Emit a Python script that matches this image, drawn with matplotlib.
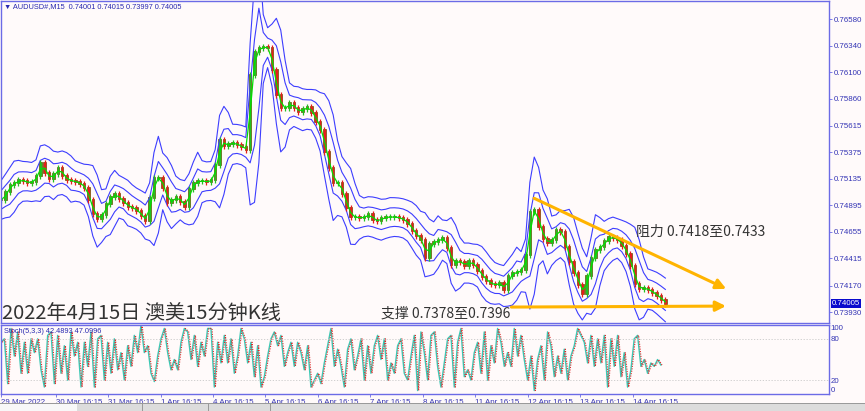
import numpy as np
import pandas as pd
import matplotlib
matplotlib.use('Agg')
import matplotlib.pyplot as plt
from matplotlib.patches import Rectangle

plt.rcParams['font.family'] = ['Liberation Sans', 'DejaVu Sans']
CJK = ['Noto Sans CJK SC', 'DejaVu Sans']

symbol = 'AUDUSD#,M15'
last_ohlc = [0.74001, 0.74015, 0.73997, 0.74005]

# closes, one every 2 hours (8 bars of M15)
closes = [
    0.74943, 0.75015, 0.75079, 0.75097, 0.75124, 0.75115, 0.75097, 0.75106, 0.75160, 0.75278,
    0.75187, 0.75133, 0.75178, 0.75232, 0.75160, 0.75124, 0.75115, 0.75106, 0.75088, 0.75052,
    0.74943, 0.74816, 0.74771, 0.74807, 0.74907, 0.74970, 0.74997, 0.74952, 0.74916, 0.74880,
    0.74871, 0.74843, 0.74798, 0.74753, 0.74961, 0.75142, 0.75142, 0.75052, 0.74916, 0.74943,
    0.74970, 0.74925, 0.74880, 0.75043, 0.75097, 0.75115, 0.75115, 0.75106, 0.75124, 0.75260,
    0.75486, 0.75431, 0.75450, 0.75459, 0.75440, 0.75422, 0.75395, 0.76074, 0.76282, 0.76318,
    0.76327, 0.76318, 0.76119, 0.75893, 0.75775, 0.75775, 0.75820, 0.75775, 0.75739, 0.75766,
    0.75784, 0.75730, 0.75648, 0.75576, 0.75377, 0.75232, 0.75097, 0.75097, 0.74997, 0.74871,
    0.74789, 0.74789, 0.74780, 0.74789, 0.74816, 0.74762, 0.74753, 0.74780, 0.74789, 0.74789,
    0.74789, 0.74780, 0.74762, 0.74726, 0.74663, 0.74617, 0.74581, 0.74418, 0.74545, 0.74563,
    0.74581, 0.74599, 0.74509, 0.74355, 0.74391, 0.74382, 0.74346, 0.74391, 0.74355, 0.74301,
    0.74247, 0.74210, 0.74183, 0.74174, 0.74192, 0.74129, 0.74256, 0.74283, 0.74292, 0.74310,
    0.74446, 0.74835, 0.74853, 0.74699, 0.74590, 0.74554, 0.74581, 0.74672, 0.74654, 0.74518,
    0.74382, 0.74283, 0.74174, 0.74093, 0.74256, 0.74418, 0.74491, 0.74518, 0.74572, 0.74608,
    0.74599, 0.74581, 0.74527, 0.74455, 0.74346, 0.74183, 0.74138, 0.74147, 0.74129, 0.74102,
    0.74075, 0.74039, 0.74005,
]
bars_per_candle = 8

# Stoch(5,3,3) main line, one reading every ~6 bars
stoch_k = [
    75, 80, 15, 95, 55, 90, 30, 75, 30, 80, 60, 80, 35, 10, 85, 90, 15, 85, 30, 70,
    20, 90, 55, 75, 10, 75, 40, 90, 10, 80, 85, 20, 75, 30, 80, 35, 60, 20, 70, 40,
    85, 60, 100, 60, 70, 30, 18, 55, 80, 95, 60, 35, 50, 35, 75, 95, 90, 50, 85, 40,
    75, 55, 95, 95, 10, 75, 45, 85, 45, 80, 30, 55, 95, 80, 45, 75, 25, 70, 10, 25,
    55, 80, 90, 70, 85, 40, 60, 75, 40, 75, 60, 35, 70, 10, 20, 30, 15, 45, 70, 95,
    40, 65, 40, 10, 65, 80, 35, 55, 80, 20, 70, 30, 70, 85, 50, 80, 20, 45, 30, 70,
    80, 30, 20, 55, 85, 5, 90, 60, 20, 85, 90, 40, 10, 45, 80, 85, 10, 75, 95, 25,
    35, 20, 60, 75, 30, 90, 20, 70, 45, 95, 75, 40, 60, 40, 95, 55, 85, 50, 20, 55,
    5, 50, 70, 20, 90, 70, 25, 55, 30, 65, 20, 55, 70, 95, 85, 75, 45, 85, 40, 80,
    45, 85, 10, 80, 40, 85, 25, 60, 10, 35, 80, 85, 40, 50, 30, 45, 40, 50, 42,
]
bars_per_stoch = 6.1
stoch_last = (42.4893, 47.0996)

price_ticks = [0.76580, 0.76340, 0.76100, 0.75860, 0.75615, 0.75375, 0.75135,
               0.74895, 0.74655, 0.74415, 0.74170, 0.73930]
time_labels = ['29 Mar 2022', '30 Mar 16:15', '31 Mar 16:15', '1 Apr 16:15', '4 Apr 16:15',
               '5 Apr 16:15', '6 Apr 16:15', '7 Apr 16:15', '8 Apr 16:15', '11 Apr 16:15',
               '12 Apr 16:15', '13 Apr 16:15', '14 Apr 16:15']
first_tick_bar = 100   # 30 Mar 16:15 counted from the first bar
bars_per_day = 96

resist_x = [971, 1332]
resist_y = [0.74970, 0.74129]
support_x = [929, 1332]
support_y = [0.73975, 0.73984]

title_text = '2022年4月15日 澳美15分钟K线'
support_text = '支撑 0.7378至0.7396'
resist_text = '阻力 0.7418至0.7433'

# ---------------------------------------------------------------
W, H = 865, 411
bg = '#fffafa'
frame = '#6b6be6'
txt = '#3535b5'
fs = 5.7
fig = plt.figure(figsize=(W / 100, H / 100), dpi=100, facecolor=bg)

def box(x0, y0, x1, y1):
    return [x0 / W, 1 - y1 / H, (x1 - x0) / W, (y1 - y0) / H]

ax = fig.add_axes(box(1, 1, 829, 323), facecolor=bg)
ax2 = fig.add_axes(box(1, 325, 829, 394), facecolor=bg, sharex=ax)

c = np.array(closes)
o = np.r_[c[0], c[:-1]]
x = np.arange(len(c)) * bars_per_candle
up = c >= o
pad = 0.0003
hi = np.maximum(o, c) + pad
lo = np.minimum(o, c) - pad

s = pd.Series(c)
mid = s.rolling(3, min_periods=1).mean()
sd = np.sqrt(s.rolling(4, min_periods=1).std(ddof=0) ** 2 + 0.0007 ** 2)
for k in (1.2, 2.5):
    ax.plot(x, mid + k * sd, color='#3d3dff', lw=0.8)
    ax.plot(x, mid - k * sd, color='#3d3dff', lw=0.8)

col = np.where(up, '#22c022', '#e81c1c')
ax.vlines(x, lo, hi, colors=col, lw=0.9)
ax.bar(x, np.abs(c - o) + 0.00006, bottom=np.minimum(o, c), width=4.5, color=col,
       edgecolor='#6a5000', lw=0.5)
ax.plot(x, s.rolling(2, min_periods=1).mean(), color='#00e000', lw=0.9)

xmax = 828 * bars_per_day / 52.45
ax.set_xlim(0, xmax)
ax.set_ylim(0.73831, 0.76743)

# trend lines
ax.annotate('', xy=(resist_x[1], resist_y[1]), xytext=(resist_x[0], resist_y[0]),
            arrowprops=dict(arrowstyle='-|>,head_length=0.6,head_width=0.3', color='#ffb400', lw=2.2))
ax.annotate('', xy=(support_x[1], support_y[1]), xytext=(support_x[0], support_y[0]),
            arrowprops=dict(arrowstyle='-|>,head_length=0.6,head_width=0.3', color='#ffb400', lw=2.2))

# price axis on the right
for a in (ax, ax2):
    for sp in a.spines.values():
        sp.set_color(frame)
        sp.set_linewidth(1.0)
    a.yaxis.tick_right()
    a.tick_params(axis='y', colors=frame, labelcolor=txt, labelsize=fs, length=2, width=0.6, pad=1.2)
ax.set_yticks(price_ticks)
ax.set_yticklabels([f'{p:.5f}' for p in price_ticks])
ax.tick_params(axis='x', bottom=False, labelbottom=False)

# current price tag
ax.text(1.003, (last_ohlc[3] - 0.73831) / (0.76743 - 0.73831), f'{last_ohlc[3]:.5f}',
        transform=ax.transAxes, fontsize=fs, color='white', va='center', ha='left',
        bbox=dict(boxstyle='square,pad=0.12', fc='#0a0acd', ec='none'))

ax.text(0.004, 0.982, '\u25bc ' + symbol + '  ' + ' '.join(f'{v:.5f}' for v in last_ohlc),
        transform=ax.transAxes, fontsize=5.3, color='#2828b0', va='center', ha='left')

# annotations
ax.text(2, 0.73915, title_text, family=CJK, fontsize=14.5, color='#333333', va='center', ha='left')
ax.text(380 * bars_per_day / 52.45, 0.73915, support_text, family=CJK, fontsize=10,
        color='#333333', va='center', ha='left')
ax.text(635 * bars_per_day / 52.45, 0.74655, resist_text, family=CJK, fontsize=10,
        color='#333333', va='center', ha='left')

# stochastic panel
xk = np.arange(len(stoch_k)) * bars_per_stoch
ax2.plot(xk, stoch_k, color='#3cc8b4', lw=1.0)
ax2.plot(xk + 2, stoch_k, color='#e02828', lw=0.8, ls=(0, (1, 1.2)))
ax2.set_ylim(0, 100)
for lv in (20, 80):
    ax2.axhline(lv, color='#c8c8c8', lw=0.6, ls=(0, (1.5, 2)))
ax2.set_yticks([100, 80, 20, 0])
ax2.set_yticklabels(['100', '80', '20', '0'])
ax2.tick_params(axis='y', length=0)
lbls = ax2.get_yticklabels()
lbls[0].set_va('top')
lbls[3].set_va('bottom')
ax2.text(0.004, 0.9, 'Stoch(5,3,3) %.4f %.4f' % stoch_last, transform=ax2.transAxes,
         fontsize=5.3, color='#2828b0', va='center', ha='left')

tick_bars = [0] + [first_tick_bar + bars_per_day * k for k in range(len(time_labels) - 1)]
ax2.set_xticks(tick_bars)
ax2.set_xticklabels(time_labels)
ax2.tick_params(axis='x', colors=frame, labelcolor=txt, labelsize=fs, length=2.5, width=0.6, pad=1)
for t in ax2.get_xticklabels():
    t.set_ha('left')
ax2.set_xlim(0, xmax)

# tab strip at the bottom
fig.patches.append(Rectangle((0, 0), 1, 7 / H, transform=fig.transFigure, fc='#dcdcdc', ec='none'))
fig.patches.append(Rectangle((0, 7 / H), 1, 1 / H, transform=fig.transFigure, fc='#9a9a9a', ec='none'))
fig.patches.append(Rectangle((0, 0), 77 / W, 7 / H, transform=fig.transFigure, fc='#f8f8f8', ec='none'))
for tx in (142, 208, 270):
    fig.patches.append(Rectangle((tx / W, 0), 1 / W, 7 / H, transform=fig.transFigure, fc='#9a9a9a', ec='none'))

fig.savefig('out.png', dpi=100, facecolor=bg)
